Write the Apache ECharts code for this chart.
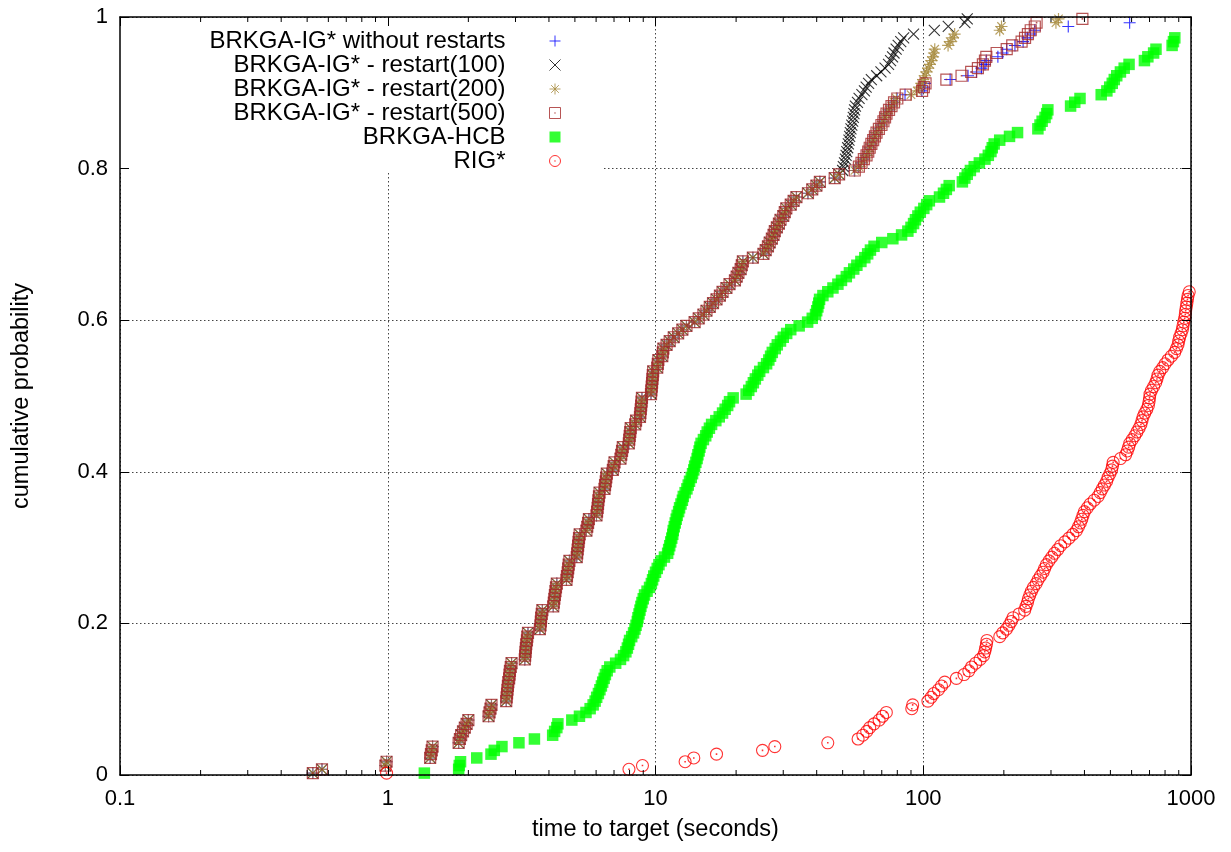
<!DOCTYPE html>
<html><head><meta charset="utf-8">
<script src="https://cdn.jsdelivr.net/npm/echarts@6/dist/echarts.min.js"></script>
<style>html,body{margin:0;padding:0;background:#fff}#chart{width:1231px;height:852px}</style>
</head><body><div id="chart"></div>
<script>
// ---- data ----
const seriesNames = ['BRKGA-IG* without restarts','BRKGA-IG* - restart(100)','BRKGA-IG* - restart(200)','BRKGA-IG* - restart(500)','BRKGA-HCB','RIG*'];

// cumulative probability of the i-th sorted run
const plotPositions = [
0.0025,0.0075,0.0125,0.0175,0.0225,0.0275,0.0325,0.0375,0.0425,0.0475,
0.0525,0.0575,0.0625,0.0675,0.0725,0.0775,0.0825,0.0875,0.0925,0.0975,
0.1025,0.1075,0.1125,0.1175,0.1225,0.1275,0.1325,0.1375,0.1425,0.1475,
0.1525,0.1575,0.1625,0.1675,0.1725,0.1775,0.1825,0.1875,0.1925,0.1975,
0.2025,0.2075,0.2125,0.2175,0.2225,0.2275,0.2325,0.2375,0.2425,0.2475,
0.2525,0.2575,0.2625,0.2675,0.2725,0.2775,0.2825,0.2875,0.2925,0.2975,
0.3025,0.3075,0.3125,0.3175,0.3225,0.3275,0.3325,0.3375,0.3425,0.3475,
0.3525,0.3575,0.3625,0.3675,0.3725,0.3775,0.3825,0.3875,0.3925,0.3975,
0.4025,0.4075,0.4125,0.4175,0.4225,0.4275,0.4325,0.4375,0.4425,0.4475,
0.4525,0.4575,0.4625,0.4675,0.4725,0.4775,0.4825,0.4875,0.4925,0.4975,
0.5025,0.5075,0.5125,0.5175,0.5225,0.5275,0.5325,0.5375,0.5425,0.5475,
0.5525,0.5575,0.5625,0.5675,0.5725,0.5775,0.5825,0.5875,0.5925,0.5975,
0.6025,0.6075,0.6125,0.6175,0.6225,0.6275,0.6325,0.6375,0.6425,0.6475,
0.6525,0.6575,0.6625,0.6675,0.6725,0.6775,0.6825,0.6875,0.6925,0.6975,
0.7025,0.7075,0.7125,0.7175,0.7225,0.7275,0.7325,0.7375,0.7425,0.7475,
0.7525,0.7575,0.7625,0.7675,0.7725,0.7775,0.7825,0.7875,0.7925,0.7975,
0.8025,0.8075,0.8125,0.8175,0.8225,0.8275,0.8325,0.8375,0.8425,0.8475,
0.8525,0.8575,0.8625,0.8675,0.8725,0.8775,0.8825,0.8875,0.8925,0.8975,
0.9025,0.9075,0.9125,0.9175,0.9225,0.9275,0.9325,0.9375,0.9425,0.9475,
0.9525,0.9575,0.9625,0.9675,0.9725,0.9775,0.9825,0.9875,0.9925,0.9975
];

// the four BRKGA-IG* variants coincide for the first 159 runs (seconds)
const igSharedTimes = [
0.525,0.568,0.98,0.99,1.44,1.45,1.46,1.47,
1.84,1.86,1.88,1.91,1.94,1.97,2.0,
2.38,2.40,2.42,2.44,
2.77,2.78,2.79,2.80,2.81,2.82,2.84,2.85,2.86,2.88,2.90,
3.25,3.26,3.27,3.28,3.29,3.31,3.32,3.34,
3.70,3.72,3.73,3.74,3.76,3.78,
4.15,4.17,4.19,4.21,4.23,4.25,4.28,
4.65,4.67,4.70,4.72,4.74,4.77,
5.08,5.10,5.12,5.14,5.16,5.18,5.21,
5.52,5.56,5.60,5.64,
6.02,6.05,6.08,6.10,6.12,6.15,6.18,
6.45,6.48,6.52,6.55,6.58,
6.93,6.98,7.03,
7.40,7.45,7.50,7.55,
7.95,7.98,8.01,8.05,8.08,
8.40,8.46,
8.75,8.78,8.81,8.84,8.87,8.90,
9.62,9.65,9.68,9.71,9.74,9.77,9.80,
10.15,10.2,10.25,
10.6,10.65,10.7,11.0,11.3,11.7,12.15,12.6,13.05,
14.0,14.5,15.1,15.5,15.95,16.4,16.9,17.4,17.8,18.4,18.9,
19.8,20.1,20.4,20.8,21.0,21.2,
23.1,25.3,25.8,26.3,26.7,27.2,27.6,27.9,28.4,28.9,29.3,
30.0,30.4,30.8,32.0,32.8,33.6,
37.1,38.5,39.9,41.1,46.7,48.5
];
const noRestartTailTimes = [55.3,57.2,58.6,59.8,61.2,62.1,63.0,63.9,64.8,65.8,66.7,68.1,69.6,70.8,71.8,72.7,74.3,75.9,77.6,79.8,85.5,98.8,100.8,101.5,126,147,158,165,170,172,190,198,205,220,236,245,251,261,348,590];
const restart100TailTimes = [50.0,50.3,50.8,51.2,51.5,51.8,52.2,52.5,52.8,53.1,53.4,53.7,54.1,54.5,54.8,55.1,55.4,55.8,56.8,57.6,59.0,60.3,61.2,62.5,64.0,67.0,69.5,72.0,74.2,75.5,76.8,77.8,79.2,80.6,82.4,84.5,92,110,124,143,146];
const restart200TailTimes = [55.5,57.5,58.8,60.0,61.4,62.3,63.1,64.0,65.0,66.0,66.9,68.3,69.8,71.0,72.0,72.9,74.5,76.1,77.8,79.4,90,95,97.1,98.5,99.9,101.4,102.8,104.3,105.8,107.3,108.8,109.6,110.4,123.8,126,129,131,193,196,313,320];
const restart500TailTimes = [55.5,57.5,58.8,60.0,61.4,62.3,63.1,64.0,65.0,66.0,66.9,68.3,69.8,71.0,72.0,72.9,74.5,76.1,77.8,80,86,99,100.5,102,122,139,151,160,167,170,172,188,205,215,233,240,246,252,261,265,393];
const hcbTimes = [
1.37,1.84,1.85,1.87,2.15,2.43,2.50,2.67,3.09,3.53,
4.13,4.2,4.28,4.32,4.87,5.2,5.5,5.7,5.85,5.95,
6.03,6.12,6.2,6.28,6.35,6.43,6.5,6.6,6.75,7.1,
7.4,7.6,7.75,7.85,7.93,8.0,8.15,8.28,8.38,8.46,
8.55,8.6,8.68,8.75,8.82,8.9,9.0,9.1,9.3,9.5,
9.65,9.75,9.85,10.0,10.15,10.3,10.5,10.8,11.1,11.2,
11.3,11.4,11.5,11.6,11.65,11.75,11.85,11.95,12.05,12.2,
12.3,12.45,12.6,12.7,12.9,13.1,13.25,13.4,13.6,13.75,
13.9,14.0,14.15,14.3,14.4,14.55,14.65,14.8,15.1,15.4,
15.6,15.9,16.2,16.8,17.3,17.8,18.2,18.6,18.9,19.5,
21.8,22.3,22.8,23.2,23.6,24.1,24.5,25.3,26.0,26.5,
26.9,27.3,28.0,28.5,29.3,30.0,30.9,32.0,34.4,37.0,
38.5,39.6,40.0,40.4,40.7,41.0,42.2,44.0,46.0,48.0,
49.5,51.6,53.0,55.0,56.5,58.5,60.5,62.0,63.5,65.5,
70.0,77.0,83.0,87.6,90.0,92.0,93.5,95.5,97.5,100.5,
103.0,105.4,115,119,122,125,140,143,146,150,
155,162,170,175,179,181,184,193,210,225,
268,273,278,285,289,292,355,368,385,462,
485,497,508,517,528,545,563,587,670,690,
725,740,850,860,870
];
const rigTimes = [
0.99,7.96,8.94,12.9,13.9,16.9,25.1,27.9,44,57.1,
59.5,61.5,63.1,65.5,68.4,70.5,72.8,90.6,91.3,104.1,
107,109.5,114,117,120.3,133,142,148,151.4,157,
163,168,169.7,171,172.2,173,193.1,198,204.5,209,
213,216.4,228,239.3,242,245,247,250,253.6,258,
264,268.4,274,280.2,284,288.4,295,302,309,318,
326,338,350,362,373.3,380,386,391,395,400,
410,420,435,449.6,458,466,475,484,490,498,
505,509,512,545,570,578,585,590.4,603,616.4,
628,640,650,656,662,672,684,693,697,700,
703,712,725,738,746,753,765,784,800,820,
845,869,882,894,900,907,918,928,933,940,
947,952,955,960,965,970,975,985
];
const minorTickValues = [0.2,0.3,0.4,0.5,0.6,0.7,0.8,0.9,2,3,4,5,6,7,8,9,20,30,40,50,60,70,80,90,200,300,400,500,600,700,800,900];
const xAxisTitle = 'time to target (seconds)';
const yAxisTitle = 'cumulative probability';

// ---- styling ----
const FONT = 'Liberation Sans';
const SYM = {
  plus: 'path://M0,5L10,5M5,0L5,10',
  cross: 'path://M0,0L10,10M0,10L10,0',
  star: 'path://M0,5L10,5M5,0L5,10M1.5,1.5L8.5,8.5M1.5,8.5L8.5,1.5',
  box: 'path://M0,0L10,0L10,10L0,10ZM4.8,4.8L5.2,4.8L5.2,5.2L4.8,5.2Z',
  fill: 'rect',
  circ: 'path://M10,5A5,5,0,1,1,0,5A5,5,0,1,1,10,5ZM4.8,4.8L5.2,4.8L5.2,5.2L4.8,5.2Z'
};
const CLEAR = 'rgba(0,0,0,0)';
const styles = [
  {sym: SYM.plus, size: 12, item: {color: CLEAR, borderColor: '#0000ff', borderWidth: 1.1}},
  {sym: SYM.cross, size: 11, item: {color: CLEAR, borderColor: '#000000', borderWidth: 1.1}},
  {sym: SYM.star, size: 12, item: {color: CLEAR, borderColor: '#a6893c', borderWidth: 1.2}},
  {sym: SYM.box, size: 11, item: {color: CLEAR, borderColor: '#a52a2a', borderWidth: 1.2}},
  {sym: SYM.fill, size: 11.5, item: {color: '#00ff00', borderWidth: 0}},
  {sym: SYM.circ, size: 12, item: {color: CLEAR, borderColor: '#ff0000', borderWidth: 1.1}}
];

function toPoints(times) { return times.map((t, i) => [t, plotPositions[i]]); }
const seriesTimes = [
  igSharedTimes.concat(noRestartTailTimes),
  igSharedTimes.concat(restart100TailTimes),
  igSharedTimes.concat(restart200TailTimes),
  igSharedTimes.concat(restart500TailTimes),
  hcbTimes,
  rigTimes
];

const scatterSeries = seriesNames.map((name, k) => ({
  type: 'scatter', name, data: toPoints(seriesTimes[k]),
  xAxisIndex: 0, yAxisIndex: 0,
  symbol: styles[k].sym, symbolSize: styles[k].size,
  itemStyle: styles[k].item,
  silent: true, emphasis: {disabled: true}, z: 2
}));

const minorTickSeries = {
  type: 'custom', name: 'minor ticks', xAxisIndex: 0, yAxisIndex: 0, z: 10, silent: true, clip: false,
  data: minorTickValues.map(v => [v, 0]),
  encode: {x: 0, y: 1},
  renderItem: function (params, api) {
    const v = api.value(0);
    const b = api.coord([v, 0]);
    const t = api.coord([v, 1]);
    return {type: 'group', children: [
      {type: 'line', shape: {x1: b[0], y1: b[1], x2: b[0], y2: b[1] - 5}, style: {stroke: '#000', lineWidth: 1}},
      {type: 'line', shape: {x1: t[0], y1: t[1], x2: t[0], y2: t[1] + 5}, style: {stroke: '#000', lineWidth: 1}}
    ]};
  }
};

const txt = {fontFamily: FONT, fontSize: 22, color: '#000'};
const titleTxt = {fontFamily: FONT, fontSize: 23.5, color: '#000'};
const gridLine = {show: true, lineStyle: {color: '#444', width: 1, type: [1.5, 2.5]}};
const axLine = {show: true, onZero: false, lineStyle: {color: '#000', width: 1.5}};
const axTick = {show: true, inside: true, length: 9, lineStyle: {color: '#000', width: 1}};
const xBase = {type: 'log', logBase: 10, min: 0.1, max: 1000};
const yBase = {type: 'value', min: 0, max: 1, interval: 0.2};
const fmtX = v => String(+Number(v).toPrecision(4));

const option = {
  animation: false,
  backgroundColor: '#fff',
  textStyle: {fontFamily: FONT},
  grid: {left: 120, right: 40, top: 17, bottom: 77, containLabel: false},
  xAxis: [
    Object.assign({}, xBase, {position: 'bottom', z: 10, axisLine: axLine, axisTick: axTick,
      axisLabel: Object.assign({margin: 13, formatter: fmtX}, txt), splitLine: {show: false},
      name: xAxisTitle, nameLocation: 'middle', nameGap: 43, nameTextStyle: titleTxt}),
    Object.assign({}, xBase, {position: 'bottom', z: 0, axisLine: {show: false}, axisTick: {show: false},
      axisLabel: {show: false}, splitLine: gridLine}),
    Object.assign({}, xBase, {position: 'top', z: 10, axisLine: axLine, axisTick: axTick,
      axisLabel: {show: false}, splitLine: {show: false}})
  ],
  yAxis: [
    Object.assign({}, yBase, {position: 'left', z: 10, axisLine: axLine, axisTick: axTick,
      axisLabel: Object.assign({margin: 12}, txt), splitLine: {show: false},
      name: yAxisTitle, nameLocation: 'middle', nameGap: 86, nameRotate: 90, nameTextStyle: titleTxt}),
    Object.assign({}, yBase, {position: 'left', z: 0, axisLine: {show: false}, axisTick: {show: false},
      axisLabel: {show: false}, splitLine: gridLine}),
    Object.assign({}, yBase, {position: 'right', z: 10, axisLine: axLine, axisTick: axTick,
      axisLabel: {show: false}, splitLine: {show: false}})
  ],
  legend: {
    orient: 'vertical', align: 'right', right: 628, top: 18,
    padding: [11, 42, 0, 90],
    backgroundColor: '#fff',
    itemWidth: 11, itemHeight: 11, itemGap: 0,
    selectedMode: false,
    textStyle: {fontFamily: FONT, fontSize: 24, color: '#000', lineHeight: 23.7, padding: [0, 39, 0, 0]},
    data: seriesNames.map((name, k) => ({name, icon: styles[k].sym,
      itemStyle: Object.assign({}, styles[k].item, {borderWidth: styles[k].item.borderWidth ? 1 : 0})}))
  },
  series: scatterSeries.concat([minorTickSeries])
};

const chart = echarts.init(document.getElementById('chart'), null, {renderer: 'canvas', width: 1231, height: 852});
chart.setOption(option);
</script>
</body></html>
